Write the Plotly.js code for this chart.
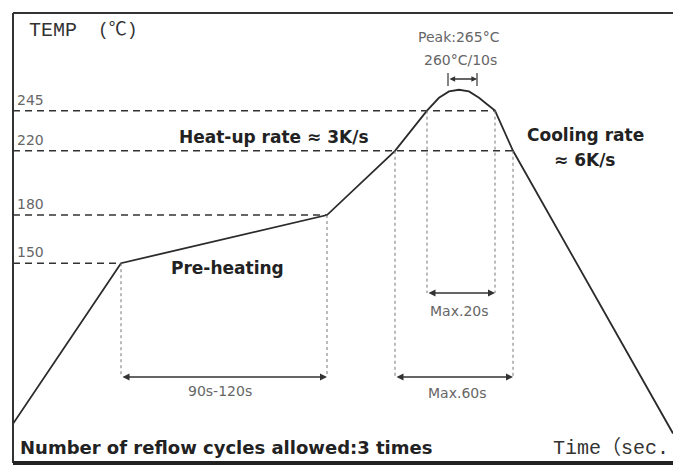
<!DOCTYPE html>
<html>
<head>
<meta charset="utf-8">
<script src="https://cdn.plot.ly/plotly-3.0.1.min.js"></script>
<style>html,body{margin:0;padding:0;background:#fff;}#chart{width:674px;height:466px;}</style>
</head>
<body>
<div id="chart"></div>
<script>
// ---- data (time in s, temperature in °C) ----
var times = [0, 54, 157, 191, 207, 213, 218, 223, 228, 233, 237, 241, 250, 330];
var temps = [50, 150, 180, 220, 245, 253, 257, 258, 257, 253, 249, 245, 220, 44];
var tickVals = [150, 180, 220, 245];
var tickLabels = ['150', '180', '220', '245'];
var dashEnds = [54, 157, 250, 241];          // time where each dashed level meets the curve
var preheatStart = 54, preheatEnd = 157;     // 90s-120s window
var above220Start = 191, above220End = 250;  // Max.60s window
var above245Start = 207, above245End = 241;  // Max.20s window
var peakStart = 217.5, peakEnd = 232;        // 260°C/10s window

// ---- layout helpers ----
var ML = 13, MT = 13, W = 674, H = 466, MR = 1, MB = 3;
var PW = W - ML - MR, PH = H - MT - MB;
var yMin = 25.6, yMax = 305.8;
function PX(x){ return (x - ML) / PW; }
function PY(y){ return (H - MB - y) / PH; }
function TY(y){ return yMax - (y - MT) / PH * (yMax - yMin); } // pixel row -> temperature

var lowArrow = TY(377), midArrow = TY(293), peakArrow = TY(79);
var lineCol = '#2b2b2b';

var shapes = [];
// frame
shapes.push({type:'line', xref:'paper', yref:'paper', x0:0, x1:1, y0:1, y1:1, line:{color:'#333', width:2}});
shapes.push({type:'line', xref:'paper', yref:'paper', x0:0, x1:0, y0:0, y1:1, line:{color:'#333', width:2}});
shapes.push({type:'line', xref:'paper', yref:'paper', x0:0, x1:1, y0:0, y1:0, line:{color:'#222', width:4}});
// dashed temperature levels
tickVals.forEach(function(v, i){
  shapes.push({type:'line', xref:'x', yref:'y', x0:0, x1:dashEnds[i], y0:v, y1:v,
    line:{color:'#333', width:1.5, dash:'7px,5px'}});
});
// dotted verticals
function vline(t, y0, y1){
  shapes.push({type:'line', xref:'x', yref:'y', x0:t, x1:t, y0:y0, y1:y1,
    line:{color:'#777', width:1, dash:'dot'}});
}
vline(preheatStart, tickVals[0], lowArrow);
vline(preheatEnd, tickVals[1], lowArrow);
vline(above220Start, tickVals[2], lowArrow);
vline(above220End, tickVals[2], lowArrow);
vline(above245Start, tickVals[3], midArrow);
vline(above245End, tickVals[3], midArrow);
// peak bracket ticks
[peakStart, peakEnd].forEach(function(t){
  shapes.push({type:'line', xref:'x', yref:'y', x0:t, x1:t, y0:TY(73), y1:TY(86),
    line:{color:'#333', width:1.2}});
});

var ann = [];
// tick labels
tickVals.forEach(function(v, i){
  ann.push({xref:'paper', yref:'y', x:PX(15), y:v, xanchor:'left', yanchor:'bottom', yshift:1,
    text:tickLabels[i], showarrow:false, font:{family:'DejaVu Sans', size:14, color:'#666'}});
});
function dbl(t0, t1, y, size){
  ann.push({xref:'x', yref:'y', x:t1, y:y, axref:'x', ayref:'y', ax:t0, ay:y, text:'',
    showarrow:true, arrowhead:2, arrowside:'end+start', arrowsize:size||1, arrowwidth:1.4, arrowcolor:'#333'});
}
dbl(preheatStart, preheatEnd, lowArrow);
dbl(above220Start, above220End, lowArrow);
dbl(above245Start, above245End, midArrow);
dbl(peakStart, peakEnd, peakArrow, 0.8);

function txt(s, x, y, font, anchor){
  ann.push({xref:'paper', yref:'paper', x:PX(x), y:PY(y), xanchor:anchor||'center', yanchor:'middle',
    text:s, showarrow:false, font:font});
}
var bold = function(sz){ return {family:'DejaVu Sans', size:sz, color:'#222', weight:'bold'}; };
var small = {family:'DejaVu Sans', size:14, color:'#666'};
var mono = function(sz){ return {family:'Liberation Mono, Noto Sans CJK SC', size:sz, color:'#333'}; };

txt('TEMP', 27, 30, mono(20), 'left');
txt('(\u2103)', 96, 30, mono(18), 'left');
txt('<b>Heat-up rate \u2248 3K/s</b>', 274, 137, bold(17));
txt('<b>Cooling rate</b>', 585, 135, bold(17));
txt('<b>\u2248 6K/s</b>', 585, 160, bold(17));
txt('<b>Pre-heating</b>', 227, 268, bold(17));
txt('<b>Number of reflow cycles allowed:3 times</b>', 18, 447, bold(18), 'left');
txt('Time\uff08sec.', 551, 448, mono(20), 'left');
txt('Peak:265\u00b0C', 459, 37, small);
txt('260\u00b0C/10s', 460, 60, small);
txt('90s-120s', 220, 391, small);
txt('Max.20s', 459, 311, small);
txt('Max.60s', 457, 393, small);

var trace = {x:times, y:temps, type:'scatter', mode:'lines',
  line:{color:lineCol, width:1.8}, hoverinfo:'skip', cliponaxis:true};

var layout = {
  width:W, height:H, margin:{l:ML, r:MR, t:MT, b:MB},
  paper_bgcolor:'#fff', plot_bgcolor:'#fff', showlegend:false,
  xaxis:{range:[0,330], visible:false, fixedrange:true},
  yaxis:{range:[yMin,yMax], visible:false, fixedrange:true},
  shapes:shapes, annotations:ann
};
Plotly.newPlot('chart', [trace], layout, {staticPlot:true, displayModeBar:false});
</script>
</body>
</html>
